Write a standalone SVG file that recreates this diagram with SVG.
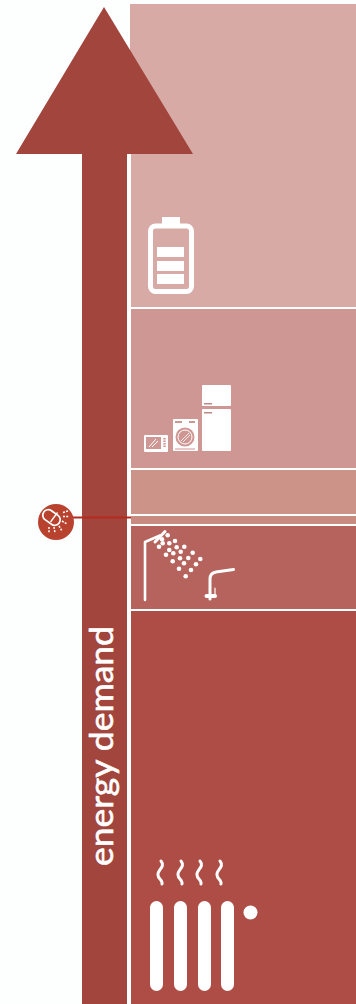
<svg xmlns="http://www.w3.org/2000/svg" width="356" height="1004" viewBox="0 0 356 1004">
<style>
.w{fill:#fff}
.l{fill:none;stroke:#fff;stroke-linecap:round;stroke-linejoin:round}
.sep{stroke:#fff;stroke-width:1.6;fill:none}
.cut{fill:#cf9793}
.dark{fill:#bb8a88}
.wave{fill:none;stroke:#fff;stroke-linecap:round;stroke-width:3}
</style>
<rect width="356" height="1004" fill="#fdfefe"/>
<g id="bands">
<rect x="130" y="4" width="226" height="303" fill="#d7aaa6"/>
<rect x="130" y="309" width="226" height="159" fill="#cf9793"/>
<rect x="130" y="470" width="226" height="44" fill="#cc9389"/>
<rect x="130" y="516" width="226" height="8" fill="#c98a80"/>
<rect x="130" y="526" width="226" height="83" fill="#b5635c"/>
<rect x="130" y="611" width="226" height="393" fill="#ae4d46"/>
</g>
<g id="dividers">
<path class="sep" d="M131 308H356M131 469H356M131 515H356M131 525H356M131 610H356"/>
<rect x="127" y="154" width="4" height="850" fill="#fff"/>
</g>
<g id="arrow">
<path d="M104 7L193 154H127V1004H82V154H16Z" fill="#a1453d"/>
<text x="113" y="866" transform="rotate(-90 113 866)" font-family="Lato, 'Open Sans', sans-serif" font-size="32" fill="#fff" stroke="#fff" stroke-width="0.6" textLength="240" lengthAdjust="spacingAndGlyphs">energy demand</text>
</g>
<g id="battery">
<rect x="150.500" y="226" width="41" height="65.500" rx="5" fill="none" stroke="#fff" stroke-width="5"/>
<rect x="162" y="217" width="18" height="9" class="w"/>
<rect x="157" y="247" width="27" height="10" class="w"/>
<rect x="157" y="261" width="27" height="10" class="w"/>
<rect x="157" y="274" width="27" height="10" class="w"/>
</g>
<g id="appliances">
<rect x="202" y="385" width="29" height="21" rx="1" class="w"/>
<rect x="202" y="409" width="29" height="42" rx="1" class="w"/>
<rect x="204" y="403" width="8" height="1.500" class="dark"/>
<rect x="204" y="412" width="8" height="1.500" class="dark"/>
<rect x="173" y="419" width="25" height="32" rx="1" class="w"/>
<circle cx="185" cy="437" r="9.500" class="cut"/>
<circle cx="185" cy="437" r="7" fill="none" stroke="#fff" stroke-width="1"/>
<path d="M175 422h7M189 422h6" stroke="#cf9793" stroke-width="2"/>
<path d="M175 449h20" stroke="#cf9793" stroke-width="1"/>
<path d="M181 441l8-8M183 442l7-7" stroke="#fff" stroke-width="0.800"/>
<rect x="144" y="435" width="24" height="17" rx="1" class="w"/>
<rect x="146" y="437" width="15" height="12" class="cut"/>
<path d="M149 447l7-8M152 447l6-6" stroke="#fff" stroke-width="1"/>
<path d="M164.500 438v10" stroke="#cf9793" stroke-width="2.500" stroke-dasharray="1.500 1"/>
</g>
<g id="pill">
<path d="M73 517.500H131" stroke="#b52a1e" stroke-width="2"/>
<circle cx="56" cy="522" r="18" fill="#b9422f"/>
<rect x="-9.500" y="-5.500" width="19" height="11" rx="5.500" transform="translate(51.500 517.500) rotate(36)" fill="none" stroke="#fff" stroke-width="1.700"/>
<path d="M57.500 512.500L50.500 522" stroke="#fff" stroke-width="1.300" fill="none"/>
<path d="M63 516.500h6M63 512.500l5-1.500M62 521l5 3M59 526l3 5M54 527l1 6M49 527v6" stroke="#fff" stroke-width="1.500" stroke-dasharray="2 1.200" fill="none"/>
</g>
<g id="shower">
<path class="l" d="M145 600V542L160 535.500" stroke-width="2.600"/>
<path class="l" d="M155 542L165 531.500" stroke-width="3"/>
<g class="w">
<circle cx="167.700" cy="535.300" r="2.300"/><circle cx="162" cy="539.300" r="2.300"/><circle cx="175" cy="541" r="2.300"/>
<circle cx="169.300" cy="543.300" r="2.300"/><circle cx="162.700" cy="543.300" r="2.300"/><circle cx="159" cy="546.700" r="2.300"/>
<circle cx="184.300" cy="546.700" r="2.300"/><circle cx="176.700" cy="547.300" r="2.300"/><circle cx="169.300" cy="550" r="2.300"/>
<circle cx="180.700" cy="551.700" r="2.300"/><circle cx="166" cy="554.700" r="2.300"/><circle cx="173.300" cy="553.300" r="2.300"/>
<circle cx="192.700" cy="552.700" r="2.300"/><circle cx="188.300" cy="558" r="2.300"/><circle cx="172.700" cy="561.300" r="2.300"/>
<circle cx="180" cy="558.300" r="2.300"/><circle cx="200.300" cy="559" r="2.300"/><circle cx="184" cy="563.300" r="2.300"/>
<circle cx="196" cy="564.300" r="2.300"/><circle cx="179" cy="568.700" r="2.300"/><circle cx="191" cy="570" r="2.300"/>
<circle cx="185.700" cy="576.300" r="2.300"/>
</g>
</g>
<g id="tap">
<path class="l" d="M210 599V579Q210 573 216 572L233.500 569.500" stroke-width="3"/>
<path class="l" d="M206.500 596H215" stroke-width="4"/>
<path class="l" d="M215 594V588" stroke-width="1.200"/>
</g>
<g id="radiator">
<rect x="150" y="901" width="13" height="90" rx="6.500" class="w"/>
<rect x="174" y="901" width="13" height="90" rx="6.500" class="w"/>
<rect x="198" y="901" width="13" height="90" rx="6.500" class="w"/>
<rect x="221" y="901" width="13" height="90" rx="6.500" class="w"/>
<circle cx="250.500" cy="912.500" r="7" class="w"/>
<path class="wave" d="M161 861C166 867 157 870 158 875C158 879 163 880 162 884"/>
<path class="wave" d="M181 861C186 867 177 870 178 875C178 879 183 880 182 884"/>
<path class="wave" d="M200 861C205 867 196 870 197 875C197 879 202 880 201 884"/>
<path class="wave" d="M220 861C225 867 216 870 217 875C217 879 222 880 221 884"/>
</g>
</svg>
